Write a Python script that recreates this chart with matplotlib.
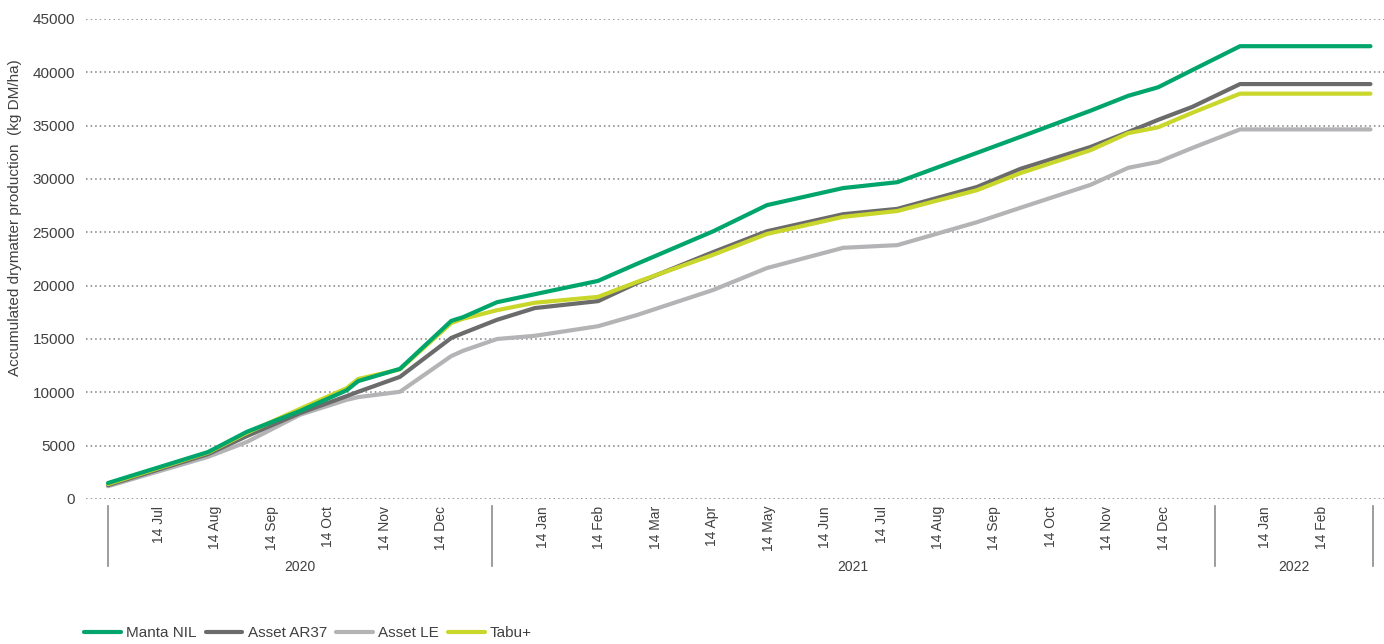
import matplotlib.pyplot as plt
import numpy as np

plt.rcParams['font.family'] = ['Liberation Sans', 'DejaVu Sans']

# x positions on the chart's month axis (1 unit = one month slot, gaps between years)
x_pos = [0, 1.77, 2.46, 3.40, 4.23, 4.43, 5.17, 6.08, 6.29, 6.89, 7.56, 8.68, 9.37,
         10.72, 11.67, 13.02, 13.98, 15.39, 16.16, 17.40, 18.07, 18.60, 19.20, 20.05, 22.36]

manta_nil = [1500, 4400, 6300, 8250, 10200, 11050, 12200, 16700, 17050, 18450, 19200, 20450, 22050,
             25100, 27550, 29150, 29700, 32450, 33950, 36400, 37800, 38600, 40200, 42450, 42450]
asset_ar37 = [1300, 4200, 5900, 8050, 9650, 10050, 11450, 15100, 15550, 16800, 17900, 18550, 20250,
              23150, 25100, 26700, 27200, 29250, 30950, 33000, 34400, 35550, 36750, 38900, 38900]
asset_le = [1200, 3950, 5350, 7900, 9300, 9550, 10050, 13400, 13900, 15000, 15300, 16200, 17250,
            19600, 21650, 23550, 23800, 25950, 27300, 29450, 31050, 31600, 32900, 34650, 34650]
tabu_plus = [1400, 4350, 6200, 8450, 10400, 11250, 12150, 16500, 16900, 17700, 18400, 18950, 20350,
             22900, 24850, 26450, 27000, 28950, 30550, 32700, 34300, 34850, 36200, 38000, 38000]

series_names = ['Manta NIL', 'Asset AR37', 'Asset LE', 'Tabu+']
series_colors = ['#00a56b', '#6b6b6b', '#b4b4b6', '#c9d62a']
series_z = [6, 4, 3, 5]

years = ['2020', '2021', '2022']
year_months = [['Jul', 'Aug', 'Sep', 'Oct', 'Nov', 'Dec'],
               ['Jan', 'Feb', 'Mar', 'Apr', 'May', 'Jun', 'Jul', 'Aug', 'Sep', 'Oct', 'Nov', 'Dec'],
               ['Jan', 'Feb']]

text_color = '#404040'

fig = plt.figure(figsize=(13.84, 6.44), dpi=100)
ax = fig.add_axes([86 / 1384, 1 - 499 / 644, 1298 / 1384, 480 / 644])

for name, vals, col, z in zip(series_names, [manta_nil, asset_ar37, asset_le, tabu_plus], series_colors, series_z):
    ax.plot(x_pos, vals, color=col, lw=3.0, label=name, solid_capstyle='round', solid_joinstyle='round', zorder=z)

ax.set_ylim(0, 45000)
ax.set_yticks(np.arange(0, 45001, 5000))
ax.set_xlim(-0.39, 22.6)
ax.grid(axis='y', color='#7f7f7f', linestyle=(0, (1, 2)), lw=1.1)
ax.set_axisbelow(True)
for s in ax.spines.values():
    s.set_visible(False)
ax.tick_params(axis='y', length=0, pad=8, labelsize=11, labelcolor=text_color)

# month ticks grouped by year, with separators between the year blocks
tick_pos, tick_lab, bounds = [], [], [0.0]
start = 0.0
for yr, months in zip(years, year_months):
    for i, m in enumerate(months):
        tick_pos.append(start + 0.9 + i)
        tick_lab.append('14 ' + m)
    width = len(months) + 0.8
    ax.text(start + width / 2, -0.142, yr, transform=ax.get_xaxis_transform(),
            ha='center', va='center', fontsize=10, color=text_color)
    start += width
    bounds.append(start)

ax.set_xticks(tick_pos, tick_lab, rotation=90)
ax.tick_params(axis='x', length=0, pad=5, labelsize=10, labelcolor=text_color)
for b in bounds:
    ax.plot([b, b], [-0.015, -0.14], transform=ax.get_xaxis_transform(),
            color='#8c8c8c', lw=1.2, clip_on=False)

fig.text(15 / 1384, 1 - 218 / 644, 'Accumulated drymatter production  (kg DM/ha)',
         rotation=90, ha='center', va='center', fontsize=11, color=text_color)

fig.legend(loc='center left', bbox_to_anchor=(84 / 1384, 1 - 633 / 644), ncol=4, frameon=False,
           fontsize=11, handlelength=2.4, handletextpad=0.35, columnspacing=0.6,
           borderpad=0, borderaxespad=0, labelcolor=text_color)

plt.savefig('out.png', dpi=100)
plt.close(fig)
